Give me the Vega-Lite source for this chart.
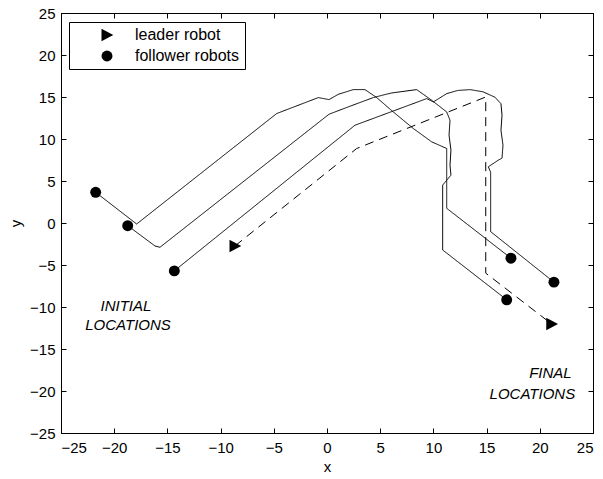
{
  "$schema": "https://vega.github.io/schema/vega-lite/v6.json",
  "width": 532,
  "height": 420,
  "autosize": {"type": "none"},
  "padding": {"left": 61, "top": 13, "right": 10, "bottom": 46},
  "background": "white",
  "config": {
    "font": "Liberation Sans",
    "view": {"stroke": "black", "strokeWidth": 1},
    "axis": {
      "grid": false,
      "domainColor": "black",
      "domainWidth": 1,
      "tickColor": "black",
      "tickSize": -5,
      "labelFontSize": 15,
      "labelColor": "black",
      "titleFontSize": 15,
      "titleFontWeight": "normal",
      "titleColor": "black",
      "labelFont": "Liberation Sans",
      "titleFont": "Liberation Sans"
    },
    "legend": {"labelFont": "Liberation Sans"}
  },
  "datasets": {
    "paths": [
      {"path": "A", "type": "follower", "seq": 1, "x": -21.74, "y": 3.65},
      {"path": "A", "type": "follower", "seq": 2, "x": -17.89, "y": -0.12},
      {"path": "A", "type": "follower", "seq": 3, "x": -4.73, "y": 13.03},
      {"path": "A", "type": "follower", "seq": 4, "x": -0.82, "y": 14.93},
      {"path": "A", "type": "follower", "seq": 5, "x": 0.19, "y": 14.69},
      {"path": "A", "type": "follower", "seq": 6, "x": 1.06, "y": 15.32},
      {"path": "A", "type": "follower", "seq": 7, "x": 2.47, "y": 15.88},
      {"path": "A", "type": "follower", "seq": 8, "x": 3.57, "y": 15.88},
      {"path": "A", "type": "follower", "seq": 9, "x": 4.67, "y": 14.93},
      {"path": "A", "type": "follower", "seq": 10, "x": 6.23, "y": 13.22},
      {"path": "A", "type": "follower", "seq": 11, "x": 8.11, "y": 11.25},
      {"path": "A", "type": "follower", "seq": 12, "x": 9.84, "y": 9.66},
      {"path": "A", "type": "follower", "seq": 13, "x": 11.25, "y": 8.87},
      {"path": "A", "type": "follower", "seq": 14, "x": 11.25, "y": 1.75},
      {"path": "A", "type": "follower", "seq": 15, "x": 17.29, "y": -4.19},
      {"path": "B", "type": "follower", "seq": 1, "x": -18.73, "y": -0.32},
      {"path": "B", "type": "follower", "seq": 2, "x": -16.17, "y": -2.73},
      {"path": "B", "type": "follower", "seq": 3, "x": -15.7, "y": -2.89},
      {"path": "B", "type": "follower", "seq": 4, "x": 0.19, "y": 12.95},
      {"path": "B", "type": "follower", "seq": 5, "x": 2.16, "y": 13.9},
      {"path": "B", "type": "follower", "seq": 6, "x": 4.35, "y": 14.93},
      {"path": "B", "type": "follower", "seq": 7, "x": 5.45, "y": 15.29},
      {"path": "B", "type": "follower", "seq": 8, "x": 6.08, "y": 15.48},
      {"path": "B", "type": "follower", "seq": 9, "x": 8.43, "y": 15.88},
      {"path": "B", "type": "follower", "seq": 10, "x": 9.84, "y": 14.61},
      {"path": "B", "type": "follower", "seq": 11, "x": 11.25, "y": 13.22},
      {"path": "B", "type": "follower", "seq": 12, "x": 11.56, "y": 12.23},
      {"path": "B", "type": "follower", "seq": 13, "x": 11.47, "y": 10.45},
      {"path": "B", "type": "follower", "seq": 14, "x": 11.65, "y": 8.67},
      {"path": "B", "type": "follower", "seq": 15, "x": 11.56, "y": 6.89},
      {"path": "B", "type": "follower", "seq": 16, "x": 11.65, "y": 5.7},
      {"path": "B", "type": "follower", "seq": 17, "x": 10.87, "y": 4.51},
      {"path": "B", "type": "follower", "seq": 18, "x": 10.87, "y": -3.21},
      {"path": "B", "type": "follower", "seq": 19, "x": 16.89, "y": -9.14},
      {"path": "C", "type": "follower", "seq": 1, "x": -14.35, "y": -5.7},
      {"path": "C", "type": "follower", "seq": 2, "x": 2.63, "y": 11.64},
      {"path": "C", "type": "follower", "seq": 3, "x": 9.37, "y": 14.81},
      {"path": "C", "type": "follower", "seq": 4, "x": 9.99, "y": 14.41},
      {"path": "C", "type": "follower", "seq": 5, "x": 11.25, "y": 15.4},
      {"path": "C", "type": "follower", "seq": 6, "x": 12.3, "y": 15.78},
      {"path": "C", "type": "follower", "seq": 7, "x": 13.44, "y": 15.88},
      {"path": "C", "type": "follower", "seq": 8, "x": 14.66, "y": 15.62},
      {"path": "C", "type": "follower", "seq": 9, "x": 15.79, "y": 14.97},
      {"path": "C", "type": "follower", "seq": 10, "x": 16.35, "y": 14.2},
      {"path": "C", "type": "follower", "seq": 11, "x": 16.45, "y": 12.83},
      {"path": "C", "type": "follower", "seq": 12, "x": 16.35, "y": 11.05},
      {"path": "C", "type": "follower", "seq": 13, "x": 16.54, "y": 9.26},
      {"path": "C", "type": "follower", "seq": 14, "x": 16.45, "y": 7.72},
      {"path": "C", "type": "follower", "seq": 15, "x": 16.1, "y": 7.48},
      {"path": "C", "type": "follower", "seq": 16, "x": 15.16, "y": 6.69},
      {"path": "C", "type": "follower", "seq": 17, "x": 15.38, "y": 6.06},
      {"path": "C", "type": "follower", "seq": 18, "x": 15.38, "y": -1.03},
      {"path": "C", "type": "follower", "seq": 19, "x": 21.33, "y": -7.04},
      {"path": "L", "type": "leader", "seq": 1, "x": -8.65, "y": -2.73},
      {"path": "L", "type": "leader", "seq": 2, "x": 2.79, "y": 8.87},
      {"path": "L", "type": "leader", "seq": 3, "x": 14.92, "y": 15.0},
      {"path": "L", "type": "leader", "seq": 4, "x": 14.92, "y": -5.97},
      {"path": "L", "type": "leader", "seq": 5, "x": 21.12, "y": -12.03}
    ],
    "robots": [
      {"kind": "leader robot", "x": -8.65, "y": -2.73},
      {"kind": "leader robot", "x": 21.12, "y": -12.03},
      {"kind": "follower robots", "x": -21.74, "y": 3.65},
      {"kind": "follower robots", "x": -18.73, "y": -0.32},
      {"kind": "follower robots", "x": -14.35, "y": -5.7},
      {"kind": "follower robots", "x": 17.29, "y": -4.19},
      {"kind": "follower robots", "x": 21.33, "y": -7.04},
      {"kind": "follower robots", "x": 16.89, "y": -9.14}
    ],
    "notes": [
      {"label": "INITIAL", "x": -18.9, "y": -9.9},
      {"label": "LOCATIONS", "x": -18.7, "y": -12.1},
      {"label": "FINAL", "x": 21.0, "y": -17.9},
      {"label": "LOCATIONS", "x": 19.3, "y": -20.3}
    ]
  },
  "layer": [
    {
      "data": {"name": "paths"},
      "mark": {"type": "line", "color": "black", "strokeWidth": 1},
      "encoding": {
        "x": {"field": "x", "type": "quantitative", "scale": {"domain": [-25, 25], "nice": false, "zero": false},
              "axis": {"orient": "bottom", "title": "x", "values": [-25, -20, -15, -10, -5, 0, 5, 10, 15, 20, 25], "labelPadding": 12, "titlePadding": 4}},
        "y": {"field": "y", "type": "quantitative", "scale": {"domain": [-25, 25], "nice": false, "zero": false},
              "axis": {"orient": "left", "title": "y", "values": [-25, -20, -15, -10, -5, 0, 5, 10, 15, 20, 25], "labelPadding": 11, "titlePadding": 6}},
        "detail": {"field": "path"},
        "order": {"field": "seq", "type": "quantitative"},
        "strokeDash": {"field": "type", "type": "nominal", "scale": {"domain": ["follower", "leader"], "range": [[1, 0], [9, 6]]}, "legend": null}
      }
    },
    {
      "data": {"name": "robots"},
      "mark": {"type": "point", "filled": true, "color": "black", "opacity": 1, "size": 120},
      "encoding": {
        "x": {"field": "x", "type": "quantitative",
              "axis": {"orient": "top", "title": null, "labels": false, "values": [-25, -20, -15, -10, -5, 0, 5, 10, 15, 20, 25]}},
        "y": {"field": "y", "type": "quantitative",
              "axis": {"orient": "right", "title": null, "labels": false, "values": [-25, -20, -15, -10, -5, 0, 5, 10, 15, 20, 25]}},
        "shape": {"field": "kind", "type": "nominal",
                  "scale": {"domain": ["leader robot", "follower robots"], "range": ["M-1,-1.15L1.15,0L-1,1.15Z", "circle"]},
                  "legend": {"title": null, "orient": "none", "legendX": 8, "legendY": 9, "direction": "vertical",
                             "strokeColor": "black", "fillColor": "white", "padding": 5, "cornerRadius": 0,
                             "symbolOffset": 25, "labelOffset": 20, "rowPadding": 5, "labelFontSize": 16,
                             "labelColor": "black", "symbolSize": 120, "symbolFillColor": "black",
                             "symbolStrokeColor": "black", "symbolStrokeWidth": 0}}
      }
    },
    {
      "data": {"name": "notes"},
      "mark": {"type": "text", "fontStyle": "italic", "fontSize": 15, "align": "center", "baseline": "middle", "color": "black", "font": "Liberation Sans"},
      "encoding": {
        "x": {"field": "x", "type": "quantitative", "axis": null},
        "y": {"field": "y", "type": "quantitative", "axis": null},
        "text": {"field": "label"}
      }
    }
  ],
  "resolve": {"axis": {"x": "independent", "y": "independent"}}
}
